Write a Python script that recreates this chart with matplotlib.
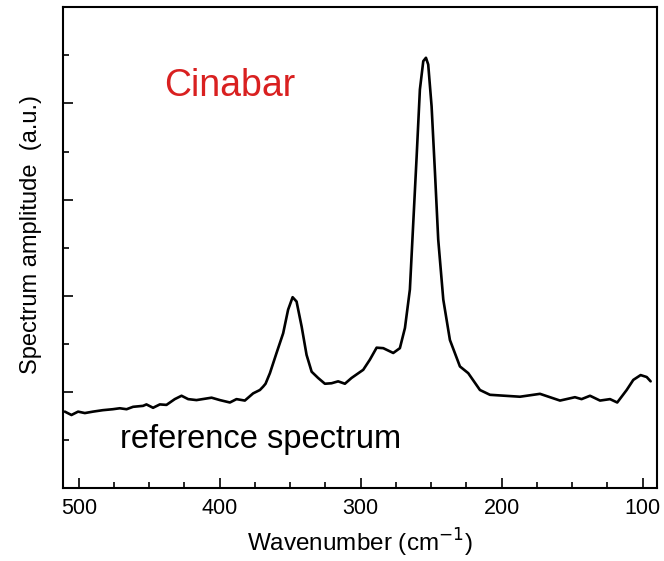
import matplotlib
matplotlib.use("Agg")
import matplotlib.pyplot as plt
from matplotlib.ticker import MultipleLocator, NullFormatter

plt.rcParams['font.family'] = ['Liberation Sans', 'DejaVu Sans']

wavenumber = [509.9, 505.2, 500.5, 495.7, 489.9, 483.0, 475.9, 470.9, 466.1, 461.5,
              454.4, 452.0, 447.3, 442.5, 437.8, 431.9, 427.1, 422.4, 416.5, 405.8,
              399.9, 392.8, 388.1, 382.2, 376.3, 371.5, 369.2, 367.5, 364.4, 359.7,
              355.0, 351.5, 348.3, 345.5, 341.9, 338.4, 334.8, 330.2, 325.4, 320.7,
              316.0, 311.2, 306.5, 298.2, 293.5, 288.7, 284.0, 276.9, 272.2, 268.6,
              265.1, 262.7, 260.3, 258.0, 255.6, 253.7, 252.1, 249.7, 247.3,
              245.0, 241.4, 236.7, 229.6, 223.7, 215.4, 208.3, 197.7, 187.0, 172.8,
              158.6, 148.0, 143.3, 137.3, 130.2, 123.1, 118.0, 111.3, 106.6, 101.4,
              97.1, 94.3]
amplitude = [1.59, 1.52, 1.59, 1.56, 1.59, 1.62, 1.64, 1.66, 1.64, 1.69,
             1.71, 1.74, 1.67, 1.74, 1.73, 1.85, 1.92, 1.85, 1.83, 1.88,
             1.83, 1.78, 1.85, 1.82, 1.97, 2.04, 2.11, 2.17, 2.39, 2.81,
             3.22, 3.71, 3.97, 3.88, 3.36, 2.77, 2.42, 2.29, 2.17, 2.18,
             2.22, 2.17, 2.29, 2.46, 2.67, 2.92, 2.91, 2.81, 2.91, 3.33,
             4.13, 5.52, 6.90, 8.29, 8.88, 8.95, 8.81, 7.94, 6.56,
             5.17, 3.92, 3.08, 2.53, 2.39, 2.04, 1.94, 1.92, 1.90, 1.96,
             1.82, 1.89, 1.85, 1.92, 1.82, 1.85, 1.78, 2.04, 2.25, 2.35,
             2.31, 2.22]

xticks = [500, 400, 300, 200, 100]

fig = plt.figure(figsize=(6.64, 5.61), dpi=100)
ax = fig.add_axes([0.0953, 0.130, 0.8937, 0.857])
ax.plot(wavenumber, amplitude, color='black', lw=1.9, solid_joinstyle='round',
        solid_capstyle='round')
ax.set_xlim(511, 90)
ax.set_ylim(0, 10)
ax.set_xticks(xticks)
ax.xaxis.set_minor_locator(MultipleLocator(25))
ax.set_yticks([2, 4, 6, 8])
ax.yaxis.set_minor_locator(MultipleLocator(1))
ax.yaxis.set_major_formatter(NullFormatter())
ax.tick_params(which='both', direction='in', top=False, right=False, width=1.2)
ax.tick_params(which='major', length=7, labelsize=15.5, pad=7)
ax.tick_params(which='minor', length=4)
for s in ax.spines.values():
    s.set_linewidth(1.5)

ax.set_xlabel('Wavenumber (cm$^{-1}$)', fontsize=17.5, labelpad=6)
ax.set_ylabel('Spectrum amplitude  (a.u.)', fontsize=17)
ax.yaxis.set_label_coords(-0.036, 0.527)

ax.text(0.17, 0.815, 'Cinabar', color='#d92020', fontsize=27, ha='left', va='baseline',
        transform=ax.transAxes)
ax.text(0.095, 0.084, 'reference spectrum', color='black', fontsize=23.5, ha='left',
        va='baseline', transform=ax.transAxes)

fig.savefig('out.png', dpi=100)
